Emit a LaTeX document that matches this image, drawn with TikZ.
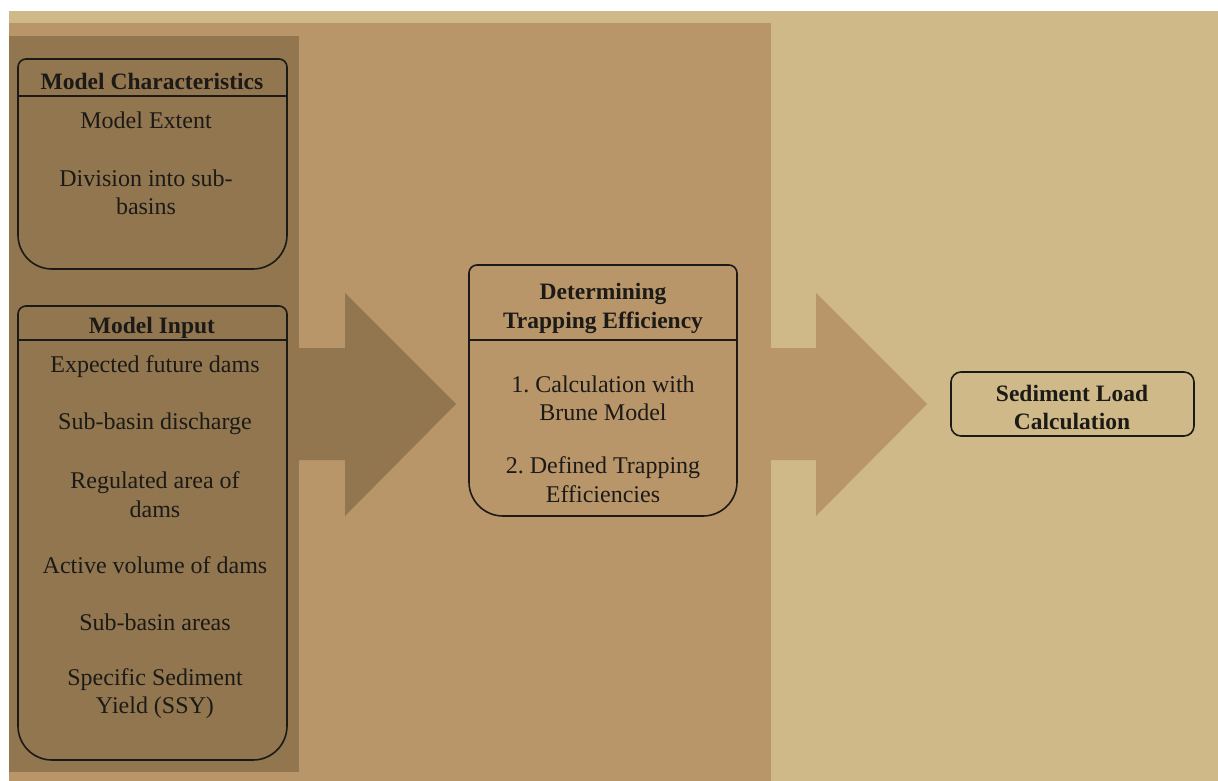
\documentclass[tikz,border=0pt]{standalone}
\usepackage{fontspec}
\setmainfont{Liberation Serif}
\frenchspacing
\definecolor{bglight}{HTML}{CFB988}
\definecolor{bgmid}{HTML}{B8966A}
\definecolor{bgdark}{HTML}{917650}
\definecolor{ink}{HTML}{1C1A16}
\begin{document}
\begin{tikzpicture}[x=1pt,y=-1pt,
  txt/.style={text=ink,font=\fontsize{24}{28.5}\selectfont,align=center,inner sep=0pt,yshift=-2.5pt},
  ttl/.style={text=ink,font=\fontsize{23.5}{28.5}\selectfont\bfseries,align=center,inner sep=0pt,yshift=-2.5pt},
  boxline/.style={draw=ink,line width=1.6pt}]
\useasboundingbox (0,0) rectangle (1218,781);
\fill[white] (0,0) rectangle (1218,781);
% backgrounds
\fill[bglight] (9,11) rectangle (1218,781);
\fill[bgmid] (9,23) rectangle (771,781);
\fill[bgdark] (9,36) rectangle (299,772);
% block arrows
\fill[bgdark] (298,348) -- (345,348) -- (345,293) -- (456,404) -- (345,516) -- (345,460) -- (298,460) -- cycle;
\fill[bgmid] (770,348) -- (816,348) -- (816,293) -- (927,404) -- (816,516) -- (816,460) -- (770,460) -- cycle;
% Model Characteristics box
\draw[boxline,rounded corners=8] (18,150) |- (287,59) -- (287,150) [rounded corners=34] |- (18,269) -- cycle;
\draw[boxline] (18,96) -- (287,96);
% Model Input box
\draw[boxline,rounded corners=8] (18,500) |- (287,306) -- (287,500) [rounded corners=34] |- (18,760) -- cycle;
\draw[boxline] (18,340) -- (287,340);
% Determining box
\draw[boxline,rounded corners=8] (469,400) |- (737,265) -- (737,400) [rounded corners=34] |- (469,516) -- cycle;
\draw[boxline] (469,340) -- (737,340);
% Sediment Load box
\draw[boxline,rounded corners=10] (951,372) rectangle (1194,436);
% texts
\node[ttl] (mc) at (152,79) {Model Characteristics};
\node[txt] (me) at (146,118) {Model Extent};
\node[txt] (div) at (146,190) {Division into sub-\\basins};
\node[ttl] (mi) at (152,325) {Model Input};
\node[txt] (efd) at (155,364) {Expected future dams};
\node[txt] (sbd) at (155,421) {Sub-basin discharge};
\node[txt] (rad) at (155,492) {Regulated area of\\dams};
\node[txt] (avd) at (155,563) {Active volume of dams};
\node[txt] (sba) at (155,620) {Sub-basin areas};
\node[txt] (ssy) at (155,691) {Specific Sediment\\Yield (SSY)};
\node[ttl] (dte) at (603,306) {Determining\\Trapping Efficiency};
\node[txt] (cbm) at (603,396) {1. Calculation with\\Brune Model};
\node[txt] (dtf) at (603,477) {2. Defined Trapping\\Efficiencies};
\node[ttl] (slc) at (1072,405) {Sediment Load\\Calculation};
\end{tikzpicture}
\end{document}
